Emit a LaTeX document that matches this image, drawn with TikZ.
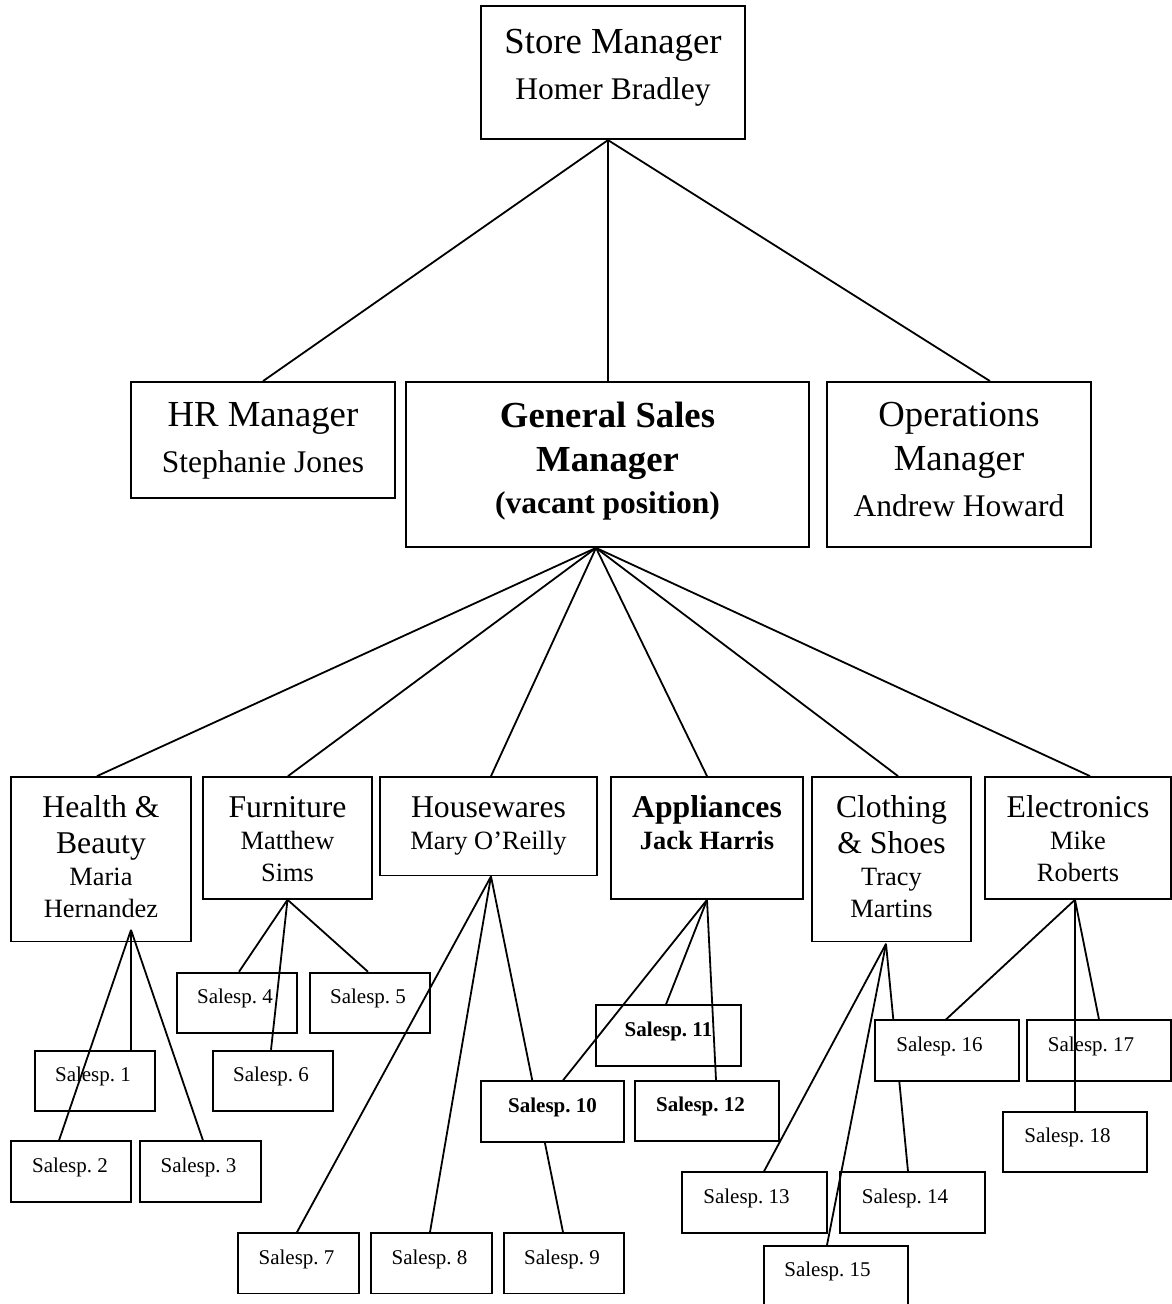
\documentclass[tikz,border=0pt]{standalone}
\usepackage{fontspec}
\setmainfont{Liberation Serif}
\frenchspacing
\pgfdeclarelayer{background}
\pgfsetlayers{background,main}
\newcommand{\mgrtitle}{\fontsize{36.7}{44}\selectfont}
\newcommand{\mgrname}{\fontsize{31.5}{46}\selectfont}
\newcommand{\depttitle}{\fontsize{31.7}{36.5}\selectfont}
\newcommand{\deptname}{\fontsize{26.4}{32}\selectfont}
\newcommand{\repfont}{\fontsize{21}{25}\selectfont}
\newcommand{\postbox}[3]{\parbox[c][#2][t]{#1}{\centering #3}}
\begin{document}
\begin{tikzpicture}[x=1pt,y=-1pt,
    staff/.style={draw,line width=1.8pt,inner sep=0pt},
    report/.style={line width=1.8pt}]
    \useasboundingbox (0,0) rectangle (1172,1304);
    % Top management
    \node[staff] (store) at (613,72.7) {\postbox{264pt}{133pt}{\mgrtitle\rule{0pt}{47pt}Store Manager\par\mgrname Homer Bradley}};
    \node[staff] (hr) at (263,440) {\postbox{264pt}{116pt}{\mgrtitle\rule{0pt}{44pt}HR Manager\par\mgrname Stephanie Jones}};
    \node[staff] (gsm) at (607.5,464.5) {\postbox{403pt}{165pt}{\bfseries\mgrtitle\rule{0pt}{45pt}General Sales\par Manager\par\vspace{-4pt}\mgrname (vacant position)}};
    \node[staff] (ops) at (959,464.5) {\postbox{264pt}{165pt}{\mgrtitle\rule{0pt}{44pt}Operations\par Manager\par\mgrname Andrew Howard}};
    % Departments
    \node[staff] (hb) at (101,859.2) {\postbox{180pt}{164.4pt}{\depttitle\rule{0pt}{40pt}Health \&\par Beauty\par\deptname Maria\par Hernandez}};
    \node[staff] (fu) at (287.5,837.9) {\postbox{169pt}{121.8pt}{\depttitle\rule{0pt}{40pt}Furniture\par\deptname Matthew\par Sims}};
    \node[staff] (hw) at (488.5,826.25) {\postbox{217pt}{98.5pt}{\depttitle\rule{0pt}{40pt}Housewares\par\deptname Mary O’Reilly}};
    \node[staff] (ap) at (707,838) {\postbox{192pt}{122pt}{\bfseries\depttitle\rule{0pt}{40pt}Appliances\par\deptname Jack Harris}};
    \node[staff] (cs) at (891.5,859.2) {\postbox{159pt}{164.4pt}{\depttitle\rule{0pt}{40pt}Clothing\par \& Shoes\par\deptname Tracy\par Martins}};
    \node[staff] (el) at (1078,837.9) {\postbox{186pt}{121.8pt}{\depttitle\rule{0pt}{40pt}Electronics\par\deptname Mike\par Roberts}};
    % Salespeople
    \foreach \n/\x/\y/\w/\sh in {1/95/1080.9/120/4, 2/71/1171.6/120/2, 3/200.5/1171.6/121/4, 4/237/1002.9/120/4,
        5/370/1002.9/120/4, 6/273/1080.9/120/4, 7/298.5/1263.3/121/4, 8/431.5/1263.3/121/4, 9/564/1263.3/120/4,
        13/754.5/1202.5/145/16, 14/912.5/1202.5/145/15, 15/836/1276.2/144/17, 17/1099/1050.6/144/16, 18/1075/1142/144/15}
        {\node[staff] (s\n) at (\x,\y) {\postbox{\w pt}{60.5pt}{\repfont\rule{0pt}{31pt}Salesp. \n\hspace*{\sh pt}}};}
    \node[staff,fill=white] (s10) at (552.5,1111.5) {\postbox{143pt}{60.5pt}{\bfseries\repfont\rule{0pt}{31pt}Salesp. 10}};
    \node[staff] (s11) at (668.5,1035.5) {\postbox{145pt}{60.5pt}{\bfseries\repfont\rule{0pt}{31pt}Salesp. 11}};
    \node[staff] (s12) at (707,1111) {\postbox{144pt}{60.5pt}{\bfseries\repfont\rule{0pt}{31pt}Salesp. 12\hspace*{13pt}}};
    \node[staff,fill=white] (s16) at (947,1050.6) {\postbox{144pt}{60.5pt}{\repfont\rule{0pt}{31pt}Salesp. 16\hspace*{15pt}}};
    % Points where the lines leave each box
    \coordinate (store-o) at ([xshift=-5pt]store.south);
    \coordinate (gsm-o) at ([xshift=-11.5pt]gsm.south);
    \coordinate (hb-o) at ([xshift=30pt,yshift=12.4pt]hb.south);
    \coordinate (fu-o) at (fu.south);
    \coordinate (hw-o) at ([xshift=2.5pt]hw.south);
    \coordinate (ap-o) at (ap.south);
    \coordinate (cs-o) at ([xshift=-5.5pt,yshift=-1.5pt]cs.south);
    \coordinate (el-o) at ([xshift=-3pt]el.south);
    % Reporting lines
    \begin{pgfonlayer}{background}
    \foreach \p/\c/\dx in {store-o/hr/0, store-o/gsm/0.5, store-o/ops/31,
        gsm-o/hb/-4, gsm-o/fu/0.5, gsm-o/hw/2.5, gsm-o/ap/0, gsm-o/cs/6.5, gsm-o/el/12,
        hb-o/s1/36, hb-o/s2/-12, hb-o/s3/2.5, fu-o/s4/2, fu-o/s5/-2, fu-o/s6/-2,
        hw-o/s7/-1.5, hw-o/s8/-1.5, hw-o/s9/-1, ap-o/s10/10.5, ap-o/s11/-2.5, ap-o/s12/9,
        cs-o/s13/9.5, cs-o/s15/-9, cs-o/s14/-4.5, el-o/s16/-1, el-o/s17/0, el-o/s18/0}
        {\draw[report] (\p) -- ([xshift=\dx pt]\c.north);}
    \end{pgfonlayer}
\end{tikzpicture}
\end{document}
